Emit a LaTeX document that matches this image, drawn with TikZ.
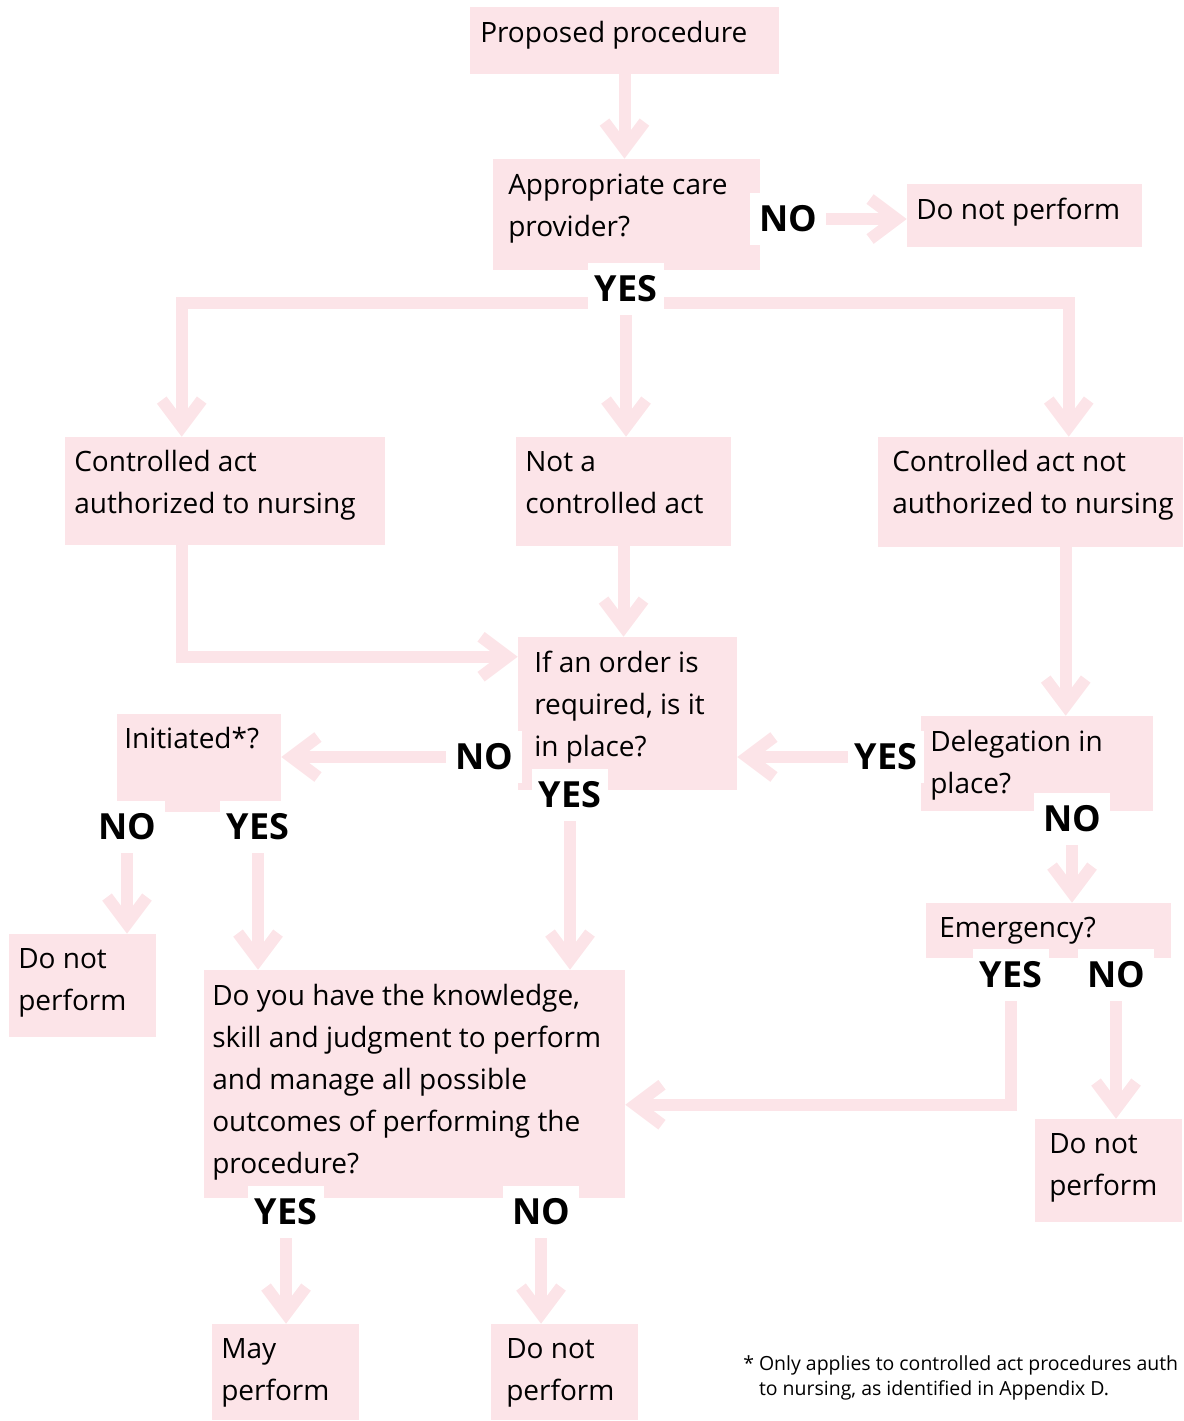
\documentclass[tikz,border=0pt]{standalone}
\usepackage{fontspec}
\setmainfont{Open Sans}
\usetikzlibrary{arrows.meta,calc,fit}
\definecolor{pk}{RGB}{252,228,232}
\begin{document}
\begin{tikzpicture}[x=0.75pt,y=-0.75pt,
  box/.style={fill=pk, draw=none, inner sep=0pt},
  txt/.style={anchor=north west, inner sep=0pt, align=left, font=\fontsize{21}{31.5}\selectfont},
  lbl/.style={fill=white, inner sep=0pt, minimum width=57pt, minimum height=39pt, font=\fontsize{27}{30}\selectfont\bfseries},
  flow/.style={draw=pk, line width=9pt, -{Straight Barb[length=20pt,width=30pt]}}]
\useasboundingbox (0,0) rectangle (1184,1421);
\clip (0,0) rectangle (1184,1421);
% boxes
\node[box, fit={(470,7) (779,74)}] (pp) {};
\node[box, fit={(493,159) (760,270)}] (acp) {};
\node[box, fit={(907,184) (1142,247)}] (dnp1) {};
\node[box, fit={(65,437) (385,545)}] (cana) {};
\node[box, fit={(516,437) (731,546)}] (nca) {};
\node[box, fit={(878,437) (1183,547)}] (cnna) {};
\node[box, fit={(518,637) (737,790)}] (order) {};
\node[box, fit={(117,714) (281,812)}] (init) {};
\node[box, fit={(921,716) (1153,811)}] (deleg) {};
\node[box, fit={(926,903) (1171,958)}] (emerg) {};
\node[box, fit={(9,934) (156,1037)}] (dnp2) {};
\node[box, fit={(204,970) (625,1198)}] (big) {};
\node[box, fit={(1035,1119) (1182,1222)}] (dnp3) {};
\node[box, fit={(212,1324) (359,1420)}] (may) {};
\node[box, fit={(491,1324) (638,1420)}] (dnp4) {};
% labels
\node[lbl] (noA) at (788,219) {NO};
\node[lbl] (yesA) at (626,289) {YES};
\node[lbl] (noO) at (484,757) {NO};
\node[lbl] (yesO) at (570,795) {YES};
\node[lbl] (yesD) at (886,757) {YES};
\node[lbl] (noD) at (1072,819) {NO};
\node[lbl] (noI) at (127,827) {NO};
\node[lbl] (yesI) at (258,827) {YES};
\node[lbl] (yesE) at (1011,975) {YES};
\node[lbl] (noE) at (1116,975) {NO};
\node[lbl] (yesB) at (286,1212) {YES};
\node[lbl] (noB) at (541,1212) {NO};
% connectors
\draw[flow] (pp.south) -- (pp.south |- acp.north);
\draw[flow] (noA.east) -- (noA.east -| dnp1.west);
\draw[flow] ($(yesA.west)+(0,14)$) -| ($(cana.north west)+(117,0)$);
\draw[flow] ($(yesA.east)+(0,14)$) -| ($(cnna.north west)+(191,0)$);
\draw[flow] (yesA.south) -- (yesA.south |- nca.north);
\draw[flow] ($(cana.south west)+(117,0)$) |- ($(order.north west)+(0,20)$);
\draw[flow] (nca.south) -- (nca.south |- order.north);
\draw[flow] ($(cnna.south west)+(188,0)$) -- ($(deleg.north west)+(145,0)$);
\draw[flow] (yesD.west) -- (yesD.west -| order.east);
\draw[flow] (noO.west) -- (noO.west -| init.east);
\draw[flow] (noI.south) -- (noI.south |- dnp2.north);
\draw[flow] (yesI.south) -- (yesI.south |- big.north);
\draw[flow] (yesO.south) -- (yesO.south |- big.north);
\draw[flow] (noD.south) -- (noD.south |- emerg.north);
\draw[flow] (yesE.south) |- ($(big.north east)+(0,135)$);
\draw[flow] (noE.south) -- (noE.south |- dnp3.north);
\draw[flow] (yesB.south) -- (yesB.south |- may.north);
\draw[flow] (noB.south) -- (noB.south |- dnp4.north);
% texts
\node[txt] (tpp) at (480,13) {\strut Proposed procedure};
\node[txt] (tacp) at (508,165) {\strut Appropriate care\\provider?};
\node[txt] (tdnp1) at (916,190) {\strut Do not perform};
\node[txt] (tcana) at (74,442) {\strut Controlled act\\authorized to nursing};
\node[txt] (tnca) at (525,442) {\strut Not a\\controlled act};
\node[txt] (tcnna) at (892,442) {\strut Controlled act not\\authorized to nursing};
\node[txt] (torder) at (534,643) {\strut If an order is\\required, is it\\in place?};
\node[txt] (tinit) at (124,719) {\strut Initiated*?};
\node[txt] (tdeleg) at (930,722) {\strut Delegation in\\place?};
\node[txt] (temerg) at (939,908) {\strut Emergency?};
\node[txt] (tdnp2) at (18,939) {\strut Do not\\perform};
\node[txt] (tbig) at (212,976) {\strut Do you have the knowledge,\\skill and judgment to perform\\and manage all possible\\outcomes of performing the\\procedure?};
\node[txt] (tdnp3) at (1049,1124) {\strut Do not\\perform};
\node[txt] (tmay) at (221,1329) {\strut May\\perform};
\node[txt] (tdnp4) at (506,1329) {\strut Do not\\perform};
\node[anchor=north west, inner sep=0pt, align=left, font=\fontsize{14.6}{19}\selectfont] (fn) at (743,1352) {\strut * Only applies to controlled act procedures auth\\\phantom{* }to nursing, as identified in Appendix D.};
\end{tikzpicture}
\end{document}
